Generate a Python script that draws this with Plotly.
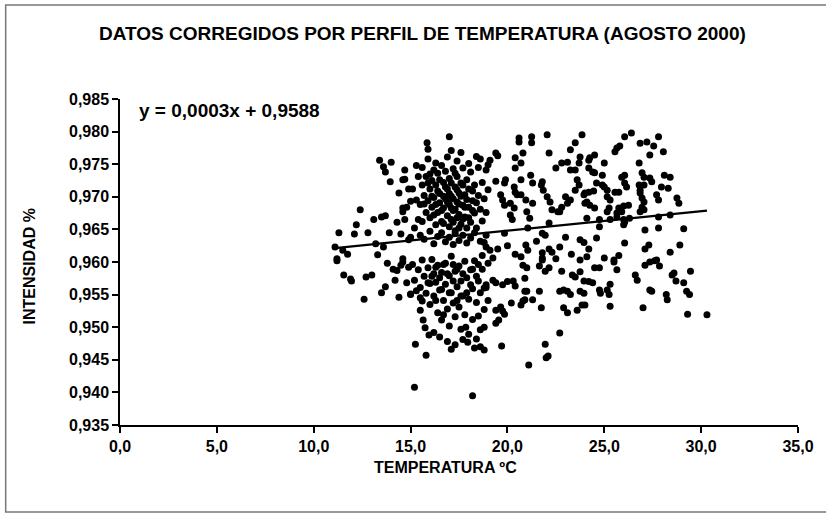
import plotly.graph_objects as go

# Ecuación de la línea de tendencia (Excel): y = 0,0003x + 0,9588
PENDIENTE = 0.0003
INTERCEPTO = 0.9588

# Puntos (temperatura ºC, intensidad), por zonas
zona_izquierda = [
    (11.1, 0.9623), (11.2, 0.9605), (11.2, 0.9602), (11.3, 0.9645), (11.5, 0.9618),
    (11.55, 0.9580), (11.75, 0.9612), (11.9, 0.9574), (11.95, 0.9571), (12.1, 0.9643),
    (12.2, 0.9657), (12.4, 0.9680), (12.6, 0.9543), (12.7, 0.9577), (12.8, 0.9645),
    (13.0, 0.9580), (13.1, 0.9665), (13.2, 0.9628), (13.3, 0.9611), (13.4, 0.9756),
    (13.5, 0.9669), (13.5, 0.9553), (13.6, 0.9746), (13.6, 0.9623), (13.7, 0.9738),
    (13.7, 0.9671), (13.7, 0.9562), (13.8, 0.9598), (13.9, 0.9645), (13.95, 0.9723),
    (14.0, 0.9753), (14.1, 0.9589), (14.2, 0.9572), (14.3, 0.9661), (14.3, 0.9587),
    (14.4, 0.9706), (14.4, 0.9546), (14.5, 0.9643), (14.5, 0.9595), (14.6, 0.9726),
    (14.6, 0.9683), (14.6, 0.9677), (14.6, 0.9605), (14.6, 0.9600), (14.7, 0.9741),
    (14.7, 0.9665), (14.7, 0.9727), (14.8, 0.9684), (14.8, 0.9568), (14.9, 0.9592),
    (14.9, 0.9634), (14.9, 0.9712), (15.0, 0.9638), (15.0, 0.9693), (15.0, 0.9550),
]

zona_densa_superior = [
    (15.1, 0.9712), (15.3, 0.9695), (15.4, 0.9731), (15.4, 0.9665), (15.5, 0.9688),
    (15.6, 0.9718), (15.6, 0.9745), (15.7, 0.9702), (15.8, 0.9676), (15.8, 0.9731),
    (15.85, 0.9783), (15.9, 0.9773), (15.9, 0.9694), (15.9, 0.9758), (16.0, 0.9712),
    (16.0, 0.9668), (16.1, 0.9725), (16.1, 0.9684), (16.2, 0.9741), (16.2, 0.9699),
    (16.3, 0.9657), (16.3, 0.9718), (16.3, 0.9752), (16.4, 0.9736), (16.4, 0.9676),
    (16.5, 0.9705), (16.5, 0.9691), (16.6, 0.9748), (16.6, 0.9662), (16.7, 0.9722),
    (16.7, 0.9683), (16.8, 0.9697), (16.8, 0.9739), (16.9, 0.9671), (16.9, 0.9712),
    (16.9, 0.9761), (17.0, 0.9654), (17.0, 0.9688), (17.0, 0.9728), (17.0, 0.9792),
    (17.1, 0.9701), (17.1, 0.9665), (17.1, 0.9771), (17.2, 0.9743), (17.2, 0.9679),
    (17.3, 0.9715), (17.3, 0.9648), (17.4, 0.9692), (17.4, 0.9731), (17.4, 0.9755),
    (17.5, 0.9673), (17.5, 0.9706), (17.6, 0.9658), (17.6, 0.9721), (17.6, 0.9768),
    (17.7, 0.9687), (17.7, 0.9744), (17.8, 0.9669), (17.8, 0.9703), (17.9, 0.9652),
    (17.9, 0.9726), (18.0, 0.9684), (18.0, 0.9712), (18.0, 0.9751), (18.1, 0.9661),
    (18.1, 0.9738), (18.2, 0.9694), (18.3, 0.9675), (18.3, 0.9718), (18.4, 0.9652),
    (18.4, 0.9762), (18.5, 0.9702), (18.5, 0.9745), (18.6, 0.9681), (18.6, 0.9758),
    (18.7, 0.9663), (18.7, 0.9722), (18.8, 0.9697), (18.9, 0.9676), (18.9, 0.9741),
    (19.0, 0.9711), (19.0, 0.9749), (19.1, 0.9756), (15.3, 0.9748),
    (15.6, 0.9662), (15.7, 0.9689), (15.9, 0.9721), (16.0, 0.9735), (16.1, 0.9701),
    (16.2, 0.9672), (16.3, 0.9688), (16.4, 0.9709), (16.5, 0.9726), (16.6, 0.9679),
    (16.7, 0.9701), (16.7, 0.9659), (16.8, 0.9715), (16.9, 0.9692), (17.0, 0.9705),
    (17.1, 0.9683), (17.1, 0.9721), (17.2, 0.9697), (17.2, 0.9661), (17.3, 0.9681),
    (17.3, 0.9736), (17.4, 0.9668), (17.4, 0.9711), (17.5, 0.9689), (17.5, 0.9652),
    (17.6, 0.9701), (17.7, 0.9666), (17.7, 0.9718), (17.8, 0.9684), (17.9, 0.9696),
    (18.0, 0.9668), (18.2, 0.9709), (18.2, 0.9679), (18.4, 0.9691),
]

zona_densa_media = [
    (15.2, 0.9652), (15.5, 0.9641), (15.7, 0.9635), (16.0, 0.9647), (16.2, 0.9628),
    (16.4, 0.9639), (16.6, 0.9645), (16.8, 0.9631), (17.0, 0.9638), (17.2, 0.9627),
    (17.3, 0.9644), (17.5, 0.9633), (17.7, 0.9641), (17.9, 0.9629), (18.1, 0.9637),
    (18.3, 0.9645), (18.6, 0.9632), (18.7, 0.9610), (18.8, 0.9630), (18.9, 0.9623),
    (18.9, 0.9641), (19.1, 0.9618), (19.25, 0.9606),
]

zona_densa_inferior = [
    (15.0, 0.9551), (15.1, 0.9596), (15.2, 0.9572), (15.25, 0.9474), (15.3, 0.9556),
    (15.4, 0.9588), (15.5, 0.9561), (15.5, 0.9545), (15.5, 0.9526), (15.6, 0.9603),
    (15.6, 0.9540), (15.65, 0.9511), (15.7, 0.9578), (15.75, 0.9499), (15.8, 0.9552),
    (15.8, 0.9457), (15.9, 0.9591), (15.95, 0.9488), (16.0, 0.9567), (16.0, 0.9535),
    (16.1, 0.9604), (16.2, 0.9582), (16.2, 0.9548), (16.2, 0.9492), (16.3, 0.9569),
    (16.4, 0.9595), (16.4, 0.9522), (16.5, 0.9557), (16.5, 0.9485), (16.6, 0.9584),
    (16.6, 0.9511), (16.7, 0.9541), (16.8, 0.9598), (16.8, 0.9566), (16.9, 0.9528),
    (16.9, 0.9478), (17.0, 0.9579), (17.0, 0.9502), (17.1, 0.9553), (17.1, 0.9609),
    (17.1, 0.9466), (17.2, 0.9537), (17.3, 0.9586), (17.3, 0.9516), (17.3, 0.9473),
    (17.4, 0.9562), (17.5, 0.9594), (17.5, 0.9531), (17.6, 0.9497), (17.6, 0.9571),
    (17.7, 0.9548), (17.7, 0.9481), (17.8, 0.9601), (17.8, 0.9519), (17.85, 0.9500),
    (17.9, 0.9576), (17.95, 0.9477), (18.0, 0.9543), (18.0, 0.9489), (18.1, 0.9588),
    (18.2, 0.9559), (18.2, 0.9512), (18.3, 0.9602), (18.3, 0.9468), (18.4, 0.9538),
    (18.4, 0.9482), (18.5, 0.9571), (18.5, 0.9517), (18.6, 0.9496), (18.6, 0.9553),
    (18.6, 0.9470), (18.7, 0.9589), (18.8, 0.9527), (18.8, 0.9465), (18.8, 0.9500),
    (18.8, 0.9560), (18.9, 0.9561), (18.9, 0.9565), (19.0, 0.9541), (19.0, 0.9598),
    (15.9, 0.9568), (16.1, 0.9578), (16.3, 0.9592), (16.3, 0.9541), (16.5, 0.9576),
    (16.6, 0.9558), (16.7, 0.9596), (16.7, 0.9519), (16.9, 0.9582), (17.0, 0.9553),
    (17.2, 0.9571), (17.2, 0.9596), (17.4, 0.9541), (17.4, 0.9589), (17.6, 0.9548),
    (17.7, 0.9582), (17.9, 0.9553), (18.1, 0.9565), (18.2, 0.9589), (18.4, 0.9578),
    (18.5, 0.9596),
]

zona_central = [
    (19.25, 0.9572), (19.4, 0.9568), (19.4, 0.9506), (19.4, 0.9526), (19.4, 0.9767),
    (19.4, 0.9724), (19.5, 0.9763), (19.5, 0.9620), (19.55, 0.9511), (19.65, 0.9531),
    (19.65, 0.9703), (19.7, 0.9471), (19.75, 0.9525), (19.75, 0.9565), (19.75, 0.9695),
    (19.85, 0.9520), (19.85, 0.9721), (19.85, 0.9687), (19.85, 0.9644), (19.9, 0.9726),
    (20.0, 0.9570), (20.0, 0.9625), (20.15, 0.9690), (20.15, 0.9672), (20.2, 0.9537),
    (20.25, 0.9665), (20.3, 0.9571), (20.35, 0.9715), (20.35, 0.9683), (20.4, 0.9563),
    (20.4, 0.9760), (20.4, 0.9744), (20.4, 0.9707), (20.4, 0.9612), (20.5, 0.9703),
    (20.6, 0.9790), (20.6, 0.9784), (20.7, 0.9534), (20.7, 0.9752), (20.7, 0.9726),
    (20.7, 0.9703), (20.7, 0.9608), (20.8, 0.9540), (20.8, 0.9595), (20.8, 0.9767),
    (20.9, 0.9542), (20.9, 0.9555), (20.9, 0.9575), (20.95, 0.9695), (20.95, 0.9626),
    (21.0, 0.9555), (21.0, 0.9591), (21.0, 0.9677), (21.05, 0.9652), (21.05, 0.9618),
    (21.1, 0.9442), (21.15, 0.9667), (21.2, 0.9733), (21.25, 0.9792), (21.25, 0.9783),
    (21.3, 0.9542), (21.3, 0.9721), (21.3, 0.9690), (21.5, 0.9632), (21.65, 0.9555),
    (21.65, 0.9594), (21.75, 0.9530), (21.75, 0.9718), (21.8, 0.9606), (21.8, 0.9723),
    (21.8, 0.9644), (21.8, 0.9614), (21.8, 0.9603), (21.85, 0.9710), (21.95, 0.9474),
    (21.95, 0.9586), (21.95, 0.9641), (22.05, 0.9795), (22.05, 0.9700), (22.1, 0.9456),
    (22.15, 0.9591), (22.15, 0.9767), (22.15, 0.9660), (22.15, 0.9620), (22.2, 0.9692),
    (22.3, 0.9680), (22.3, 0.9615), (22.5, 0.9744), (22.5, 0.9605), (22.6, 0.9677),
    (22.7, 0.9491), (22.7, 0.9555), (22.7, 0.9677), (22.7, 0.9623), (22.8, 0.9586),
    (22.8, 0.9752), (22.8, 0.9684), (22.9, 0.9557), (22.9, 0.9530), (23.0, 0.9700),
    (23.0, 0.9638), (23.1, 0.9555), (23.1, 0.9522), (23.1, 0.9753), (23.1, 0.9690),
    (23.25, 0.9550), (23.25, 0.9772), (23.25, 0.9741), (23.25, 0.9695), (23.3, 0.9612),
    (23.35, 0.9580), (23.5, 0.9577), (23.5, 0.9783), (23.5, 0.9741), (23.5, 0.9710),
    (23.6, 0.9526), (23.6, 0.9726), (23.7, 0.9752), (23.7, 0.9718), (23.75, 0.9585),
    (23.75, 0.9555), (23.75, 0.9761), (23.75, 0.9634), (23.75, 0.9603), (23.85, 0.9534),
    (23.85, 0.9795), (23.95, 0.9552), (23.95, 0.9571), (23.95, 0.9703), (23.95, 0.9630),
]

zona_derecha = [
    (24.0, 0.9534), (24.0, 0.9690), (24.0, 0.9706), (24.1, 0.9692), (24.1, 0.9667),
    (24.1, 0.9608), (24.2, 0.9570), (24.2, 0.9756), (24.2, 0.9744), (24.2, 0.9707),
    (24.2, 0.9620), (24.25, 0.9760), (24.25, 0.9687), (24.4, 0.9568), (24.4, 0.9738),
    (24.45, 0.9709), (24.5, 0.9591), (24.5, 0.9764), (24.5, 0.9737), (24.5, 0.9683),
    (24.6, 0.9721), (24.6, 0.9637), (24.75, 0.9591), (24.75, 0.9557), (24.75, 0.9665),
    (24.75, 0.9654), (24.8, 0.9552), (24.9, 0.9733), (24.9, 0.9718), (25.0, 0.9752),
    (25.0, 0.9715), (25.0, 0.9606), (25.15, 0.9557), (25.15, 0.9710), (25.15, 0.9700),
    (25.15, 0.9677), (25.25, 0.9550), (25.25, 0.9683), (25.3, 0.9532), (25.3, 0.9566),
    (25.3, 0.9695), (25.3, 0.9665), (25.5, 0.9600), (25.5, 0.9603), (25.55, 0.9769),
    (25.55, 0.9707), (25.65, 0.9588), (25.65, 0.9775), (25.65, 0.9675), (25.65, 0.9669),
    (25.75, 0.9707), (25.75, 0.9683), (25.75, 0.9610), (25.8, 0.9778), (25.9, 0.9730),
    (25.9, 0.9677), (26.0, 0.9686), (26.0, 0.9665), (26.0, 0.9657), (26.05, 0.9792),
    (26.05, 0.9733), (26.05, 0.9721), (26.05, 0.9661), (26.05, 0.9629), (26.15, 0.9715),
    (26.25, 0.9687), (26.3, 0.9667), (26.4, 0.9798), (26.6, 0.9580), (26.7, 0.9572),
    (26.8, 0.9752), (26.8, 0.9718), (26.85, 0.9782), (26.85, 0.9710), (26.85, 0.9706),
    (26.85, 0.9677), (26.95, 0.9737), (26.95, 0.9698), (26.95, 0.9684), (27.0, 0.9530),
    (27.05, 0.9730), (27.05, 0.9718), (27.05, 0.9692), (27.05, 0.9680), (27.1, 0.9595),
    (27.1, 0.9649), (27.1, 0.9620), (27.2, 0.9784), (27.3, 0.9626), (27.35, 0.9557),
    (27.35, 0.9600), (27.35, 0.9764), (27.35, 0.9729), (27.45, 0.9555), (27.45, 0.9723),
    (27.55, 0.9778), (27.6, 0.9602), (27.7, 0.9703), (27.7, 0.9603), (27.8, 0.9792),
    (27.8, 0.9695), (27.8, 0.9669), (27.8, 0.9652), (27.85, 0.9594), (27.95, 0.9715),
    (28.05, 0.9769), (28.1, 0.9733), (28.2, 0.9550), (28.25, 0.9542), (28.3, 0.9713),
    (28.4, 0.9730), (28.4, 0.9672), (28.4, 0.9615), (28.5, 0.9580), (28.6, 0.9583),
    (28.7, 0.9571), (28.75, 0.9698), (28.85, 0.9690), (28.9, 0.9626), (29.1, 0.9568),
    (29.1, 0.9651), (29.25, 0.9555), (29.3, 0.9520), (29.4, 0.9550), (29.45, 0.9586),
    (30.3, 0.9519),
]

atipicos = [(15.2, 0.9408), (18.2, 0.9395), (22.0, 0.9453)]

puntos = (zona_izquierda + zona_densa_superior + zona_densa_media
          + zona_densa_inferior + zona_central + zona_derecha + atipicos)
temperatura = [p[0] for p in puntos]
intensidad = [p[1] for p in puntos]

x_tendencia = [min(temperatura), max(temperatura)]
y_tendencia = [PENDIENTE * t + INTERCEPTO for t in x_tendencia]

FUENTE = "Liberation Sans"
NEGRITA = dict(family=FUENTE, color="black", weight="bold")

fig = go.Figure()
fig.add_trace(go.Scatter(
    x=temperatura, y=intensidad, mode="markers",
    marker=dict(color="black", size=7, line=dict(width=0)),
    showlegend=False, hoverinfo="x+y"))
fig.add_trace(go.Scatter(
    x=x_tendencia, y=y_tendencia, mode="lines",
    line=dict(color="black", width=2.2), showlegend=False))

fig.update_layout(
    width=826, height=519,
    margin=dict(l=120, r=24, t=99, b=94),
    paper_bgcolor="white", plot_bgcolor="white",
    separators=",.",
    font=dict(family=FUENTE, color="black", size=15),
    xaxis=dict(range=[0, 35], tick0=0, dtick=5, tickformat=".1f",
               showgrid=False, zeroline=False, showline=True,
               linecolor="black", linewidth=1.5, ticks="outside",
               ticklen=6, tickwidth=1.5, tickcolor="black",
               tickfont=dict(NEGRITA, size=16),
               fixedrange=True),
    yaxis=dict(range=[0.935, 0.985], tick0=0.935, dtick=0.005, tickformat=".3f",
               showgrid=False, zeroline=False, showline=True,
               linecolor="black", linewidth=1.5, ticks="outside",
               ticklen=6, tickwidth=1.5, tickcolor="black",
               tickfont=dict(NEGRITA, size=16),
               fixedrange=True),
    annotations=[
        dict(text="DATOS CORREGIDOS POR PERFIL DE TEMPERATURA (AGOSTO 2000)",
             xref="paper", yref="paper", x=(424 - 120) / 682, y=(425 - 33) / 326,
             xanchor="center", yanchor="middle", showarrow=False,
             font=dict(NEGRITA, size=19)),
        dict(text="TEMPERATURA ºC",
             xref="paper", yref="paper", x=(447 - 120) / 682, y=(425 - 467) / 326,
             xanchor="center", yanchor="middle", showarrow=False,
             font=dict(NEGRITA, size=16)),
        dict(text="INTENSIDAD %", textangle=-90,
             xref="paper", yref="paper", x=(28 - 120) / 682, y=(425 - 267) / 326,
             xanchor="center", yanchor="middle", showarrow=False,
             font=dict(NEGRITA, size=16)),
        dict(text="y = 0,0003x + 0,9588",
             xref="paper", yref="paper", x=(137 - 120) / 682, y=(425 - 110) / 326,
             xanchor="left", yanchor="middle", showarrow=False,
             font=dict(NEGRITA, size=19)),
    ],
    shapes=[dict(type="rect", xref="paper", yref="paper",
                 x0=(5 - 120) / 682, x1=(860 - 120) / 682,
                 y0=(425 - 512) / 326, y1=(425 - 5) / 326,
                 line=dict(color="#777777", width=1.5), fillcolor="rgba(0,0,0,0)",
                 layer="below")],
)

fig.write_html("out.html")
